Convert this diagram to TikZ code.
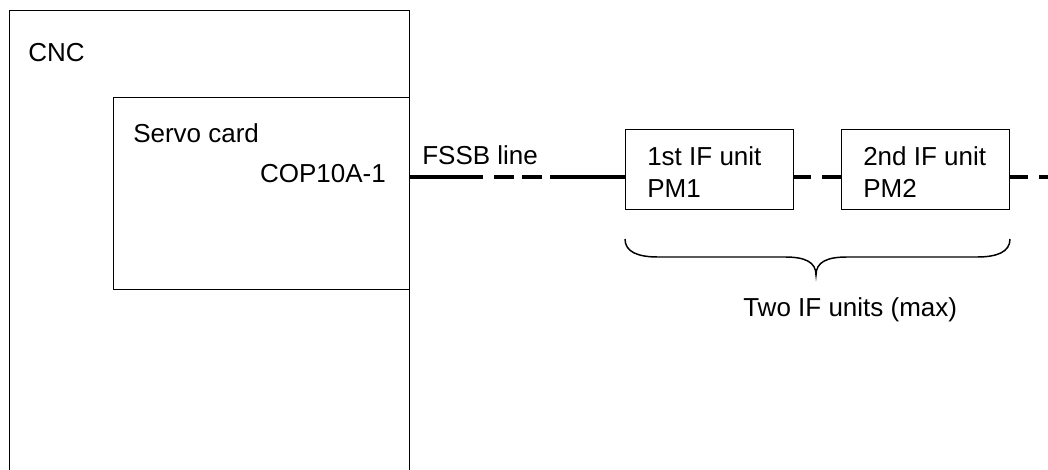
\documentclass[tikz,border=0pt]{standalone}
\usepackage{fontspec}
\setmainfont{Liberation Sans}
\begin{document}
\begin{tikzpicture}[x=0.75pt,y=-0.75pt,
  boxstyle/.style={draw, line width=1.1pt, inner sep=0, anchor=north west},
  lbl/.style={inner sep=0, font=\fontsize{19.5}{23}\selectfont},
  fssb/.style={line width=2.4pt, line cap=butt},
  bracestyle/.style={line width=1.1pt}]
\useasboundingbox (0,0) rectangle (1048,470);

% boxes
\node[boxstyle, minimum width=300pt, minimum height=356pt] (cnc) at (9,10) {};
\node[boxstyle, minimum width=222pt, minimum height=144pt] (servo) at (113,97) {};
\node[boxstyle, minimum width=126pt, minimum height=60pt] (if1) at (625,129) {};
\node[boxstyle, minimum width=126pt, minimum height=60pt] (if2) at (841,129) {};

% texts
\node[lbl, anchor=base west] (tcnc) at (28,62) {CNC};
\node[lbl, anchor=base west] (tservo) at (133,143) {Servo card};
\node[lbl, anchor=base east] (tcop) at (386,183) {COP10A-1};
\node[lbl, anchor=base west] (tfssb) at (422,165) {FSSB line};
\node[lbl, anchor=base west] (tif1a) at (647,166) {1st IF unit};
\node[lbl, anchor=base west] (tif1b) at (647,198) {PM1};
\node[lbl, anchor=base west] (tif2a) at (863,166) {2nd IF unit};
\node[lbl, anchor=base west] (tif2b) at (863,198) {PM2};
\node[lbl, anchor=base west] (ttwo) at (743,316) {Two IF units (max)};

% FSSB line
\coordinate (busy) at (0,177);
\coordinate (busend) at (1052,177);
\draw[fssb, dash pattern=on 54.75pt off 8.25pt on 15pt off 6pt on 15pt off 6pt on 60pt off 10pt]
  (servo.east |- busy) -- (if1.west |- busy);
\draw[fssb, dash pattern=on 12.75pt off 8.25pt on 20pt off 1pt]
  (if1.east |- busy) -- (if2.west |- busy);
\draw[fssb, dash pattern=on 13.5pt off 8.25pt on 20pt off 1pt]
  (if2.east |- busy) -- (busend);

% brace
\draw[bracestyle] (625,239) .. controls (625,252) and (638,257) .. (658,257)
  -- (785,257) .. controls (805,257) and (816,262) .. (816,275)
  .. controls (816,262) and (827,257) .. (847,257)
  -- (977,257) .. controls (997,257) and (1010,252) .. (1010,239);
\end{tikzpicture}
\end{document}
